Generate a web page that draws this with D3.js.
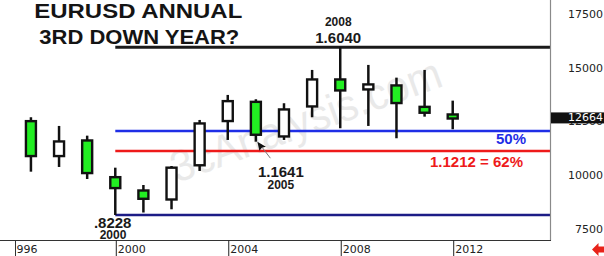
<!DOCTYPE html>
<html>
<head>
<meta charset="utf-8">
<script src="https://cdn.jsdelivr.net/npm/d3@7"></script>
<style>
  body { margin: 0; background: #fff; }
  svg { display: block; }
</style>
</head>
<body>
<svg id="chart" width="604" height="256"></svg>
<script>
// annual EURUSD candles
var years  = [1997, 1998, 1999, 2000, 2001, 2002, 2003, 2004, 2005, 2006, 2007, 2008, 2009, 2010, 2011, 2012];
var opens  = [1.2653, 1.0916, 1.1754, 1.0045, 0.9425, 0.8894, 1.0487, 1.2546, 1.3552, 1.1829, 1.3226, 1.4595, 1.4018, 1.4316, 1.3319, 1.2965];
var highs  = [1.2779, 1.2374, 1.1922, 1.0431, 0.9625, 1.0510, 1.2653, 1.3818, 1.3617, 1.3431, 1.4982, 1.6040, 1.5215, 1.4623, 1.4982, 1.3552];
var lows   = [1.0245, 1.0464, 0.9905, 0.8228, 0.8344, 0.8494, 1.0278, 1.1722, 1.1641, 1.1722, 1.2779, 1.2267, 1.2374, 1.1801, 1.2807, 1.2220];
var closes = [1.0916, 1.1708, 1.0124, 0.9425, 0.8927, 1.0487, 1.2546, 1.3585, 1.1908, 1.3198, 1.4595, 1.3971, 1.4363, 1.3384, 1.2933, 1.2664];

var yTicks = [0.75, 1.00, 1.25, 1.50, 1.75];
var xTicks = [1996, 2000, 2004, 2008, 2012];

// horizontal levels
var levelHigh = 1.6040, levelLow = 0.8228, level50 = 1.2134, level62 = 1.1212;
var lastPrice = 1.2664;

var svg = d3.select("#chart");
var plotRight = 550, plotBottom = 240.5, boxRight = 15.5;

var x = d3.scaleLinear().domain([1995.9, 2015.46]).range([0, plotRight]);
var y = d3.scaleLinear().domain([levelLow, levelHigh]).range([215, 47.2]);

var candles = years.map(function(yr, i) {
    return { year: yr, o: opens[i], h: highs[i], l: lows[i], c: closes[i] };
});

// watermark
svg.append("text")
    .attr("transform", "translate(177,183) rotate(-20)")
    .attr("font-family", "Liberation Sans, Arial, sans-serif")
    .attr("font-size", 44)
    .attr("textLength", 285)
    .attr("lengthAdjust", "spacingAndGlyphs")
    .attr("fill", "#e9e9e9")
    .text("3cAnalysis.com");

// level lines, all starting at the 2000 low
function level(v, color, w) {
    svg.append("line")
        .attr("x1", x(2000)).attr("x2", plotRight)
        .attr("y1", y(v)).attr("y2", y(v))
        .attr("stroke", color).attr("stroke-width", w);
}
level(levelHigh, "#1a1a1a", 3);
level(level50, "#1f2ee6", 2.5);
level(level62, "#ee1a1a", 2.5);
level(levelLow, "#1c1c86", 2.5);

// candles
var bodyW = 10;
var g = svg.append("g");
g.selectAll(".wick")
    .data(candles)
    .enter().append("line")
    .attr("class", "wick")
    .attr("x1", d => x(d.year)).attr("x2", d => x(d.year))
    .attr("y1", d => y(d.h)).attr("y2", d => y(d.l))
    .attr("stroke", "#111").attr("stroke-width", 2.5);

g.selectAll(".body")
    .data(candles)
    .enter().append("rect")
    .attr("class", "body")
    .attr("x", d => x(d.year) - bodyW / 2)
    .attr("y", d => y(Math.max(d.o, d.c)) + 1.2)
    .attr("width", bodyW)
    .attr("height", d => Math.max(2, y(Math.min(d.o, d.c)) - y(Math.max(d.o, d.c)) - 2.4))
    .attr("fill", d => d.c < d.o ? "#22ee22" : "#fff")
    .attr("stroke", "#111").attr("stroke-width", 2.4);

// annotations
var ann = svg.append("g").attr("font-family", "Liberation Sans, Arial, sans-serif").attr("fill", "#1a1a1a");
ann.append("text").attr("x", x(2008) - 2).attr("y", y(levelHigh) - 21)
    .attr("text-anchor", "middle").attr("font-size", 12).attr("font-weight", "bold").text("2008");
ann.append("text").attr("x", x(2008) - 2).attr("y", y(levelHigh) - 4)
    .attr("text-anchor", "middle").attr("font-size", 15).attr("font-weight", "bold").text("1.6040");
ann.append("text").attr("x", x(2000) - 2.6).attr("y", y(levelLow) + 12.7)
    .attr("text-anchor", "middle").attr("font-size", 15).attr("font-weight", "bold").text(".8228");
ann.append("text").attr("x", x(2000) - 2.3).attr("y", y(levelLow) + 24.3)
    .attr("text-anchor", "middle").attr("font-size", 12).attr("font-weight", "bold").text("2000");
ann.append("text").attr("x", x(2005) + 25).attr("y", y(1.1641) + 35.6)
    .attr("text-anchor", "middle").attr("font-size", 15).attr("font-weight", "bold").text("1.1641");
ann.append("text").attr("x", x(2005) + 25).attr("y", y(1.1641) + 47.3)
    .attr("text-anchor", "middle").attr("font-size", 12).attr("font-weight", "bold").text("2005");
ann.append("text").attr("x", 526).attr("y", y(level50) + 13.2)
    .attr("text-anchor", "end").attr("font-size", 15).attr("font-weight", "bold")
    .attr("fill", "#1f2ee6").text("50%");
ann.append("text").attr("x", 523).attr("y", y(level62) + 16.4)
    .attr("text-anchor", "end").attr("font-size", 15).attr("font-weight", "bold")
    .attr("fill", "#ee1a1a").text("1.1212 = 62%");

// arrow to the 2005 low
var tipX = x(2005) + 1.5, tipY = y(1.1641);
svg.append("line")
    .attr("x1", tipX + 13).attr("y1", tipY + 16.5)
    .attr("x2", tipX + 5).attr("y2", tipY + 6)
    .attr("stroke", "#777").attr("stroke-width", 1);
svg.append("path")
    .attr("d", "M" + tipX + "," + tipY + " l2,9 l2.5,-3 l4,-1 z")
    .attr("fill", "#111");

// title
var title = svg.append("g")
    .attr("font-family", "Liberation Sans, Arial, sans-serif")
    .attr("font-weight", "bold").attr("font-size", 21).attr("fill", "#141414");
title.append("text").attr("x", 34.3).attr("y", 18.3)
    .attr("textLength", 208).attr("lengthAdjust", "spacingAndGlyphs").text("EURUSD ANNUAL");
title.append("text").attr("x", 39.3).attr("y", 44.3)
    .attr("textLength", 200).attr("lengthAdjust", "spacingAndGlyphs").text("3RD DOWN YEAR?");

// frame
svg.append("line").attr("x1", plotRight + 0.5).attr("x2", plotRight + 0.5)
    .attr("y1", 0).attr("y2", plotBottom).attr("stroke", "#8a8a8a").attr("stroke-width", 1.2);
svg.append("line").attr("x1", 0).attr("x2", plotRight + 1)
    .attr("y1", plotBottom).attr("y2", plotBottom).attr("stroke", "#333").attr("stroke-width", 1);

// right price axis
var yAxis = svg.append("g")
    .attr("transform", "translate(603,0)")
    .call(d3.axisRight(y).tickValues(yTicks).tickSize(0).tickFormat(d => Math.round(d * 10000)));
yAxis.select(".domain").remove();
yAxis.selectAll("text")
    .attr("x", 0).attr("dy", "0.14em")
    .attr("text-anchor", "end")
    .attr("font-family", "DejaVu Sans, Verdana, sans-serif")
    .attr("font-size", 11).attr("fill", "#222");

// last price tag
svg.append("rect")
    .attr("x", plotRight + 1).attr("y", y(lastPrice) - 7.3)
    .attr("width", 604 - plotRight).attr("height", 11)
    .attr("fill", "#111");
svg.append("text")
    .attr("x", 603).attr("y", y(lastPrice) + 1)
    .attr("text-anchor", "end")
    .attr("font-family", "DejaVu Sans, Verdana, sans-serif")
    .attr("font-size", 11).attr("fill", "#fff")
    .text(Math.round(lastPrice * 10000));

// bottom year axis
svg.append("clipPath").attr("id", "xclip")
    .append("rect").attr("x", boxRight).attr("y", 0).attr("width", 604).attr("height", 256);
var xAxis = svg.append("g")
    .attr("clip-path", "url(#xclip)")
    .append("g")
    .attr("transform", "translate(0," + plotBottom + ")")
    .call(d3.axisBottom(x).tickValues(xTicks).tickSize(16).tickFormat(d3.format("d")));
xAxis.select(".domain").remove();
xAxis.selectAll("line").attr("stroke", "#222").attr("transform", "translate(0.5,0)");
xAxis.selectAll("text")
    .attr("x", d => Math.max(2, boxRight + 0.5 - 7 - x(d)))
    .attr("y", 12).attr("dy", 0)
    .attr("text-anchor", "start")
    .attr("font-family", "DejaVu Sans, Verdana, sans-serif")
    .attr("font-size", 11).attr("fill", "#222");
svg.append("line").attr("x1", boxRight).attr("x2", boxRight)
    .attr("y1", plotBottom).attr("y2", 256).attr("stroke", "#333");

// red arrow bottom right
svg.append("path")
    .attr("d", "M592,249.5 L598.5,243 L598.5,246.5 L604,246.5 L604,252.5 L598.5,252.5 L598.5,256 Z")
    .attr("fill", "#e8231a");
</script>
</body>
</html>
